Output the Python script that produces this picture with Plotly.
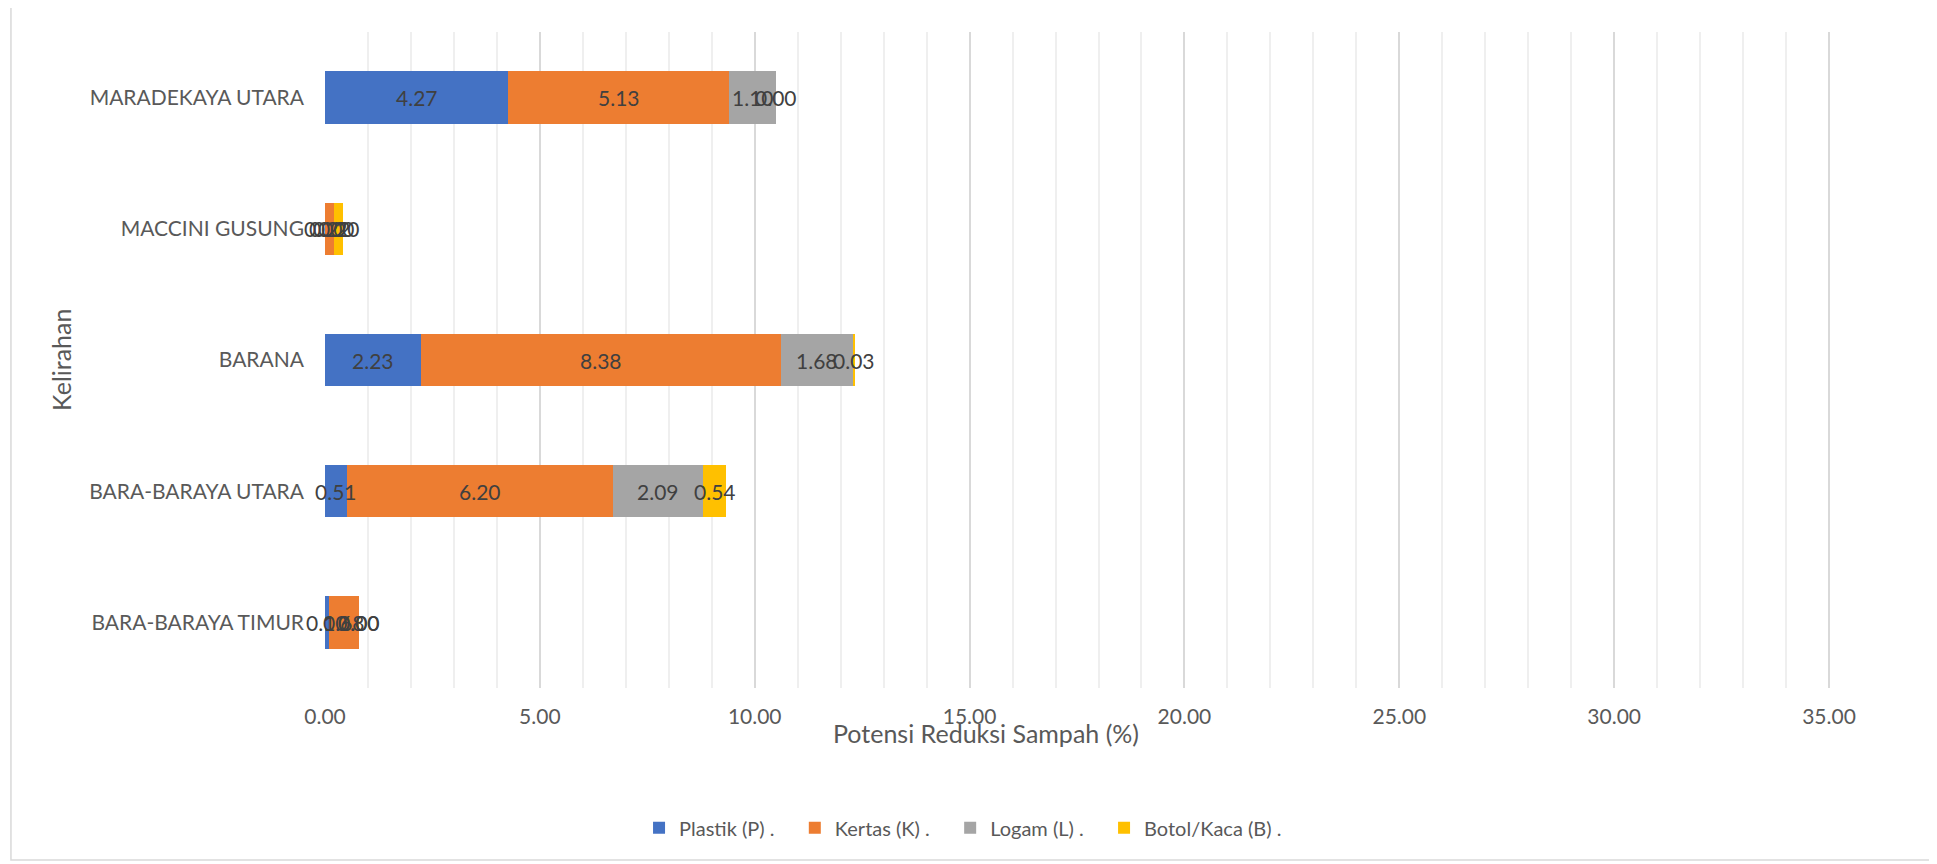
import plotly.graph_objects as go

# Potensi reduksi sampah per kelurahan (%)
kelurahan = ["BARA-BARAYA TIMUR", "BARA-BARAYA UTARA", "BARANA", "MACCINI GUSUNG", "MARADEKAYA UTARA"]
plastik = [0.10, 0.51, 2.23, 0.00, 4.27]
kertas = [0.68, 6.20, 8.38, 0.22, 5.13]
logam = [0.00, 2.09, 1.68, 0.00, 1.10]
botol_kaca = [0.00, 0.54, 0.03, 0.20, 0.00]

x_ticks = [0, 5, 10, 15, 20, 25, 30, 35]

series = [
    ("Plastik (P) .", plastik, "#4472C4"),
    ("Kertas (K) .", kertas, "#ED7D31"),
    ("Logam (L) .", logam, "#A5A5A5"),
    ("Botol/Kaca (B) .", botol_kaca, "#FFC000"),
]

FONT = "Lato, 'Noto Sans', sans-serif"
PAD = "\u00a0" * 3  # extra room between legend entries, like Excel

fig = go.Figure()
for name, vals, color in series:
    fig.add_trace(go.Bar(
        y=kelurahan,
        x=vals,
        name=name + PAD,
        orientation="h",
        marker=dict(color=color, line=dict(width=0)),
    ))

# data labels, centred on each segment (Excel shows 0.00 too, so use annotations)
base = [0.0] * len(kelurahan)
for name, vals, color in series:
    for i, v in enumerate(vals):
        fig.add_annotation(
            x=base[i] + v / 2, y=kelurahan[i],
            xref="x", yref="y",
            text=f"{v:.2f}",
            showarrow=False,
            xanchor="center", yanchor="middle",
            font=dict(size=21, color="#404040"),
        )
        base[i] += v

# the page body adds an 8px offset, so the figure is 8px smaller
fig.update_layout(
    width=1929,
    height=856,
    barmode="stack",
    bargap=0.6,
    plot_bgcolor="white",
    paper_bgcolor="white",
    font=dict(family=FONT, size=21, color="#595959"),
    margin=dict(l=317, r=65, t=24, b=176),
    showlegend=True,
    legend=dict(
        orientation="h",
        x=0.203, xanchor="left",
        y=-0.213, yanchor="middle",
        font=dict(size=20, color="#595959"),
        traceorder="normal",
    ),
)

fig.update_xaxes(
    range=[0, 36],
    tickvals=x_ticks,
    tickformat=".2f",
    showgrid=True,
    gridcolor="#D9D9D9",
    gridwidth=1.5,
    minor=dict(dtick=1, showgrid=True, gridcolor="#EFEFEF", gridwidth=1.5),
    zeroline=False,
    showline=False,
    ticks="",
    ticklabelstandoff=14,
    automargin=False,
    tickfont=dict(size=21, color="#595959"),
)

fig.update_yaxes(
    showgrid=False,
    zeroline=False,
    showline=False,
    ticks="",
    ticklabelstandoff=20,
    automargin=False,
    tickfont=dict(size=21, color="#595959"),
)

fig.add_annotation(
    text="Potensi Reduksi Sampah (%)",
    xref="paper", yref="paper",
    x=0.427, y=-0.068,
    xanchor="center", yanchor="middle",
    showarrow=False,
    font=dict(size=25, color="#595959"),
)
fig.add_annotation(
    text="Kelirahan",
    xref="paper", yref="paper",
    x=-0.1707, y=0.5,
    xanchor="center", yanchor="middle",
    textangle=-90,
    showarrow=False,
    font=dict(size=25, color="#595959"),
)

# chart border
fig.add_shape(
    type="rect",
    xref="paper", yref="paper",
    x0=-0.203, x1=1.0388, y0=-0.2622, y1=1.0427,
    line=dict(color="#D9D9D9", width=1.5),
    fillcolor="rgba(0,0,0,0)",
    layer="below",
)

fig.write_html("out.html")
